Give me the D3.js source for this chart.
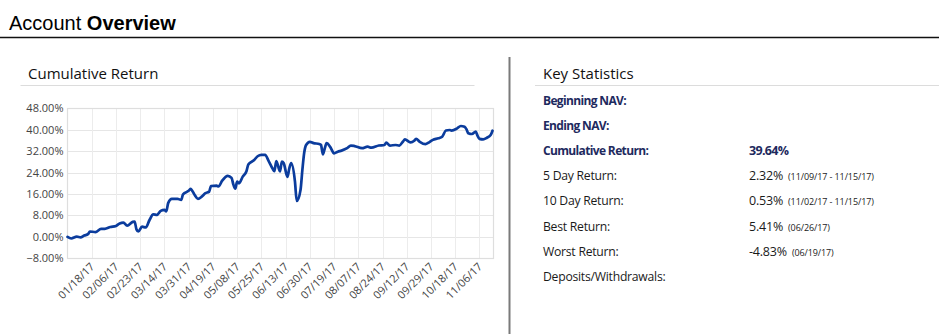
<!DOCTYPE html>
<html>
<head>
<meta charset="utf-8">
<script src="https://cdn.jsdelivr.net/npm/d3@7"></script>
<style>
  html, body { margin: 0; padding: 0; background: #fff; }
  svg { display: block; }
</style>
</head>
<body>
<svg id="chart" width="939" height="334"></svg>
<script>
// ---- Data ----
// x-axis tick labels (one every 13 weekdays, first at weekday #13 after 12/30/16)
const tickLabels = ["01/18/17","02/06/17","02/23/17","03/14/17","03/31/17","04/19/17","05/08/17","05/25/17","06/13/17","06/30/17","07/19/17","08/07/17","08/24/17","09/12/17","09/29/17","10/18/17","11/06/17"];
const tickStep = 13;
const lastDay = 228; // 11/15/17, weekday index from 12/30/16
// weekday index of each sampled point
const dayIndex = [0,2,5,7,9,11,12,15,18,20,23,26,28,30,32,35,36,37,38,40,42,44,46,48,50,52,53,54,56,59,61,62,65,66,68,70,72,74,76,77,80,81,83,86,88,89,90,91,92,94,96,97,100,102,104,106,108,110,111,112,114,115,116,118,119,120,122,123,125,126,127,128,130,132,135,136,137,138,139,141,143,145,147,150,152,154,158,161,163,167,170,171,173,176,178,180,181,184,186,187,189,192,194,196,199,201,203,205,206,209,211,213,214,215,217,219,220,221,223,225,227,228];
// cumulative return (%) at each sampled point
const cumReturn = [0.0,-0.6,0.1,-0.2,0.5,1.0,2.0,1.8,3.0,3.0,3.7,4.1,5.0,5.3,4.2,5.6,5.7,2.8,2.0,3.8,3.5,6.3,8.4,8.2,9.7,10.1,9.5,12.6,14.2,14.2,13.8,15.9,17.2,17.9,15.9,14.2,15.0,16.3,16.9,19.0,19.1,18.8,21.0,22.8,22.0,19.5,18.0,20.6,20.0,22.5,24.5,27.0,28.6,30.1,30.6,30.6,28.2,25.5,24.5,28.3,24.4,28.1,27.5,22.4,25.6,27.5,20.8,13.4,17.5,25.0,31.5,34.3,35.5,35.0,34.7,34.3,30.8,33.0,35.0,33.5,31.2,31.8,32.2,33.1,34.1,33.9,33.1,33.7,33.3,34.1,34.3,35.2,34.1,34.3,34.1,35.6,36.4,35.3,35.9,36.6,35.5,34.6,35.3,36.2,36.8,37.4,39.7,39.9,39.7,40.5,41.4,41.1,40.2,38.7,38.4,39.3,37.7,36.6,36.4,37.0,38.0,39.64];
const yTicks = [-8,0,8,16,24,32,40,48];

// Key statistics
const statLabels = ["Beginning NAV:","Ending NAV:","Cumulative Return:","5 Day Return:","10 Day Return:","Best Return:","Worst Return:","Deposits/Withdrawals:"];
const statBold   = [true,true,true,false,false,false,false,false];
const statValues = ["","","39.64%","2.32%","0.53%","5.41%","-4.83%",""];
const statNotes  = ["","","","(11/09/17 - 11/15/17)","(11/02/17 - 11/15/17)","(06/26/17)","(06/19/17)",""];

// ---- Drawing ----
const svg = d3.select("#chart");
const W = 939, H = 334;
const font = "'Open Sans', sans-serif";

// Header
const title = svg.append("text").attr("x", 9).attr("y", 30)
  .attr("font-family", "'Liberation Sans', Arial, sans-serif").attr("font-size", 20).attr("fill", "#000");
title.append("tspan").text("Account ");
title.append("tspan").attr("font-weight", "bold").text("Overview");
svg.append("line").attr("x1", 0).attr("x2", W).attr("y1", 37.5).attr("y2", 37.5)
  .attr("stroke", "#111").attr("stroke-width", 1.6);

// Section headings
svg.append("text").attr("x", 28).attr("y", 79).attr("font-family", font).attr("font-size", 15)
  .attr("fill", "#111").text("Cumulative Return");
svg.append("line").attr("x1", 20.5).attr("x2", 474.5).attr("y1", 85.5).attr("y2", 85.5)
  .attr("stroke", "#dcdcdc").attr("stroke-width", 1);
svg.append("text").attr("x", 543).attr("y", 79).attr("font-family", font).attr("font-size", 15)
  .attr("fill", "#111").text("Key Statistics");
svg.append("line").attr("x1", 535).attr("x2", W).attr("y1", 85.5).attr("y2", 85.5)
  .attr("stroke", "#dcdcdc").attr("stroke-width", 1);

// Divider
svg.append("line").attr("x1", 509.5).attr("x2", 509.5).attr("y1", 57).attr("y2", H)
  .attr("stroke", "#7a7a7a").attr("stroke-width", 2);

// Chart
const plot = {left: 67.5, right: 492.5, top: 108.3, bottom: 258.3};
const x = d3.scaleLinear().domain([0, lastDay]).range([plot.left, plot.right]);
const y = d3.scaleLinear().domain([-8, 48]).range([plot.bottom, plot.top]);
const g = svg.append("g");

const xTickVals = tickLabels.map((d, i) => (i + 1) * tickStep);

// grid
g.append("g").selectAll("line").data(yTicks).join("line")
  .attr("x1", plot.left).attr("x2", plot.right + 1)
  .attr("y1", d => Math.round(y(d)) + 0.5).attr("y2", d => Math.round(y(d)) + 0.5)
  .attr("stroke", "#e6e6e6").attr("stroke-width", 1);
g.append("g").selectAll("line").data(xTickVals).join("line")
  .attr("x1", d => Math.round(x(d)) + 0.5).attr("x2", d => Math.round(x(d)) + 0.5)
  .attr("y1", plot.top).attr("y2", plot.bottom)
  .attr("stroke", "#ececec").attr("stroke-width", 1);
// plot frame
g.append("rect").attr("x", plot.left).attr("y", Math.round(plot.top) + 0.5)
  .attr("width", plot.right + 1 - plot.left).attr("height", Math.round(plot.bottom) - Math.round(plot.top))
  .attr("fill", "none").attr("stroke", "#dedede").attr("stroke-width", 1.2);

// y axis
const yAxis = d3.axisLeft(y).tickValues(yTicks).tickSize(0).tickPadding(4)
  .tickFormat(d => d3.format(".2f")(d) + "%");
const ya = g.append("g").attr("transform", `translate(${plot.left},0)`).call(yAxis);
ya.select(".domain").remove();
ya.selectAll("text").attr("font-family", font).attr("font-size", 11).attr("fill", "#444");

// x axis
const xAxis = d3.axisBottom(x).tickValues(xTickVals).tickSize(0)
  .tickFormat((d, i) => tickLabels[i]);
const xa = g.append("g").attr("transform", `translate(0,${plot.bottom})`).call(xAxis);
xa.select(".domain").remove();
xa.selectAll("text").attr("font-family", font).attr("font-size", 11).attr("fill", "#444")
  .attr("text-anchor", "end").attr("dy", null).attr("y", 0)
  .attr("transform", "translate(3,9) rotate(-45)");

// line
const pts = dayIndex.map((d, i) => [d, cumReturn[i]]);
g.append("path").datum(pts)
  .attr("fill", "none").attr("stroke", "#0b3c9d").attr("stroke-width", 2.7)
  .attr("stroke-linejoin", "round").attr("stroke-linecap", "round")
  .attr("d", d3.line().x(d => x(d[0])).y(d => y(d[1])).curve(d3.curveMonotoneX));

// Stats
const rowY = i => 104.5 + i * 25.2;
const sg = svg.append("g");
statLabels.forEach((lab, i) => {
  const t = sg.append("text").attr("x", 543).attr("y", rowY(i)).attr("font-family", font)
    .attr("font-size", statBold[i] ? 12 : 12.2).attr("fill", statBold[i] ? "#1e2a5e" : "#1a1a1a")
    .attr("font-weight", statBold[i] ? "bold" : "normal")
    .attr("letter-spacing", statBold[i] ? -0.65 : -0.25)
    .text(lab);
  if (statValues[i]) {
    const v = sg.append("text").attr("x", 749).attr("y", rowY(i)).attr("font-family", font)
      .attr("font-size", 12.5).attr("fill", statBold[i] ? "#1e2a5e" : "#1a1a1a")
      .attr("font-weight", statBold[i] ? "bold" : "normal")
      .attr("letter-spacing", statBold[i] ? -0.7 : -0.2);
    v.append("tspan").text(statValues[i]);
    if (statNotes[i]) {
      v.append("tspan").attr("dx", 5).attr("font-size", 9).attr("letter-spacing", -0.1).text(statNotes[i]);
    }
  }
});
</script>
</body>
</html>
